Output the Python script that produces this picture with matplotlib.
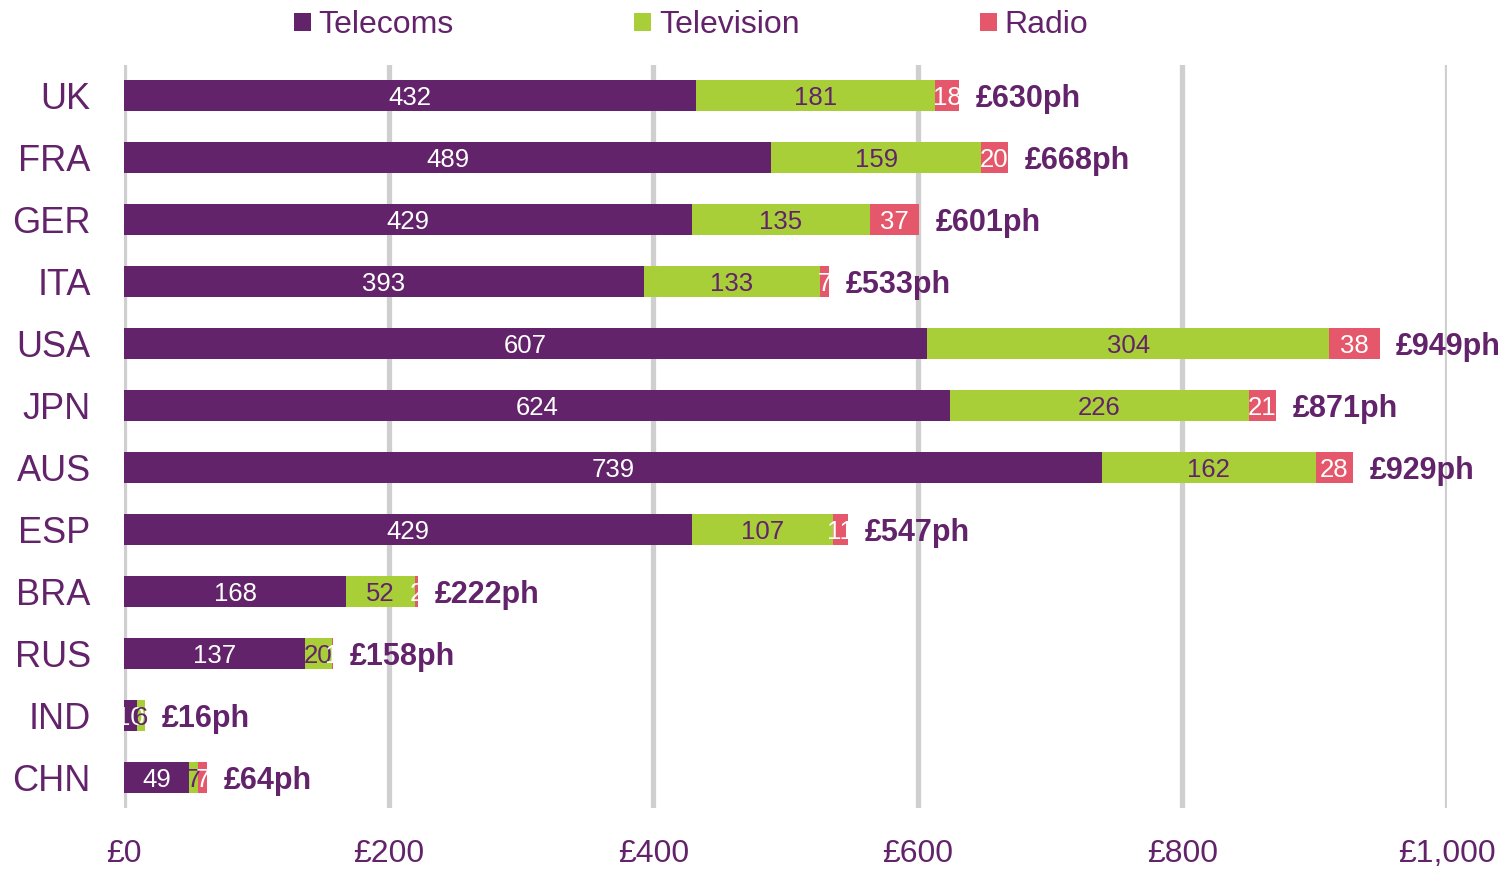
import matplotlib
matplotlib.use("Agg")
from matplotlib import pyplot
from matplotlib.ticker import FuncFormatter

# --------------------------------------------------------------------------

countries = ["UK", "FRA", "GER", "ITA", "USA", "JPN", "AUS", "ESP", "BRA", "RUS", "IND", "CHN"]
telecoms = [432, 489, 429, 393, 607, 624, 739, 429, 168, 137, 10, 49]
television = [181, 159, 135, 133, 304, 226, 162, 107, 52, 20, 6, 7]
radio = [18, 20, 37, 7, 38, 21, 28, 11, 2, 1, 0, 7]
totals = [630, 668, 601, 533, 949, 871, 929, 547, 222, 158, 16, 64]

PURPLE = "#62236a"
GREEN = "#a8cf38"
RED = "#e5576a"
GRID = "#cfcfcf"

pyplot.rcParams["font.family"] = ["Liberation Sans", "DejaVu Sans"]

fig = pyplot.figure(figsize=(15.09, 8.71), dpi=100)
W, H = 1509, 871
ax = fig.add_axes([124/W, 1 - 808/H, (1447-124)/W, (808-65)/H])

ypos = list(range(len(countries)))
left2 = [a for a in telecoms]
left3 = [a + b for a, b in zip(telecoms, television)]
ends = [a + b + c for a, b, c in zip(telecoms, television, radio)]

b1 = ax.barh(ypos, telecoms, height=0.5, color=PURPLE, label="Telecoms", zorder=3)
b2 = ax.barh(ypos, television, left=left2, height=0.5, color=GREEN, label="Television", zorder=3)
b3 = ax.barh(ypos, radio, left=left3, height=0.5, color=RED, label="Radio", zorder=3)

# segment labels, centred in each segment
for lefts, vals, col in (([0]*len(telecoms), telecoms, "white"), (left2, television, PURPLE), (left3, radio, "white")):
    for y, l, v in zip(ypos, lefts, vals):
        if v == 0: continue
        ax.text(l + v/2, y, str(v), ha="center", va="center_baseline", color=col,
                fontsize=18.5, zorder=4)

for y, e, t in zip(ypos, ends, totals):
    ax.annotate("£%dph" % t, (e, y), xytext=(12, 0), textcoords="offset points",
                va="center_baseline", ha="left", fontsize=22, fontweight="bold", color=PURPLE)

ax.set_xlim(0, 1000)
ax.set_ylim(11.5, -0.5)
ax.set_xticks([0, 200, 400, 600, 800, 1000])
ax.xaxis.set_major_formatter(FuncFormatter(lambda v, p: "£{:,.0f}".format(v)))
ax.set_yticks(ypos)
ax.set_yticklabels(countries)
ax.tick_params(axis="x", length=0, pad=22, labelsize=23, labelcolor=PURPLE)
ax.tick_params(axis="y", length=0, pad=24, labelsize=26, labelcolor=PURPLE)
ax.grid(axis="x", color=GRID, linewidth=3.8, zorder=0)
ax.set_axisbelow(True)
for s in ax.spines.values():
    s.set_visible(False)

leg = fig.legend(handles=[b1, b2, b3], loc="upper center", bbox_to_anchor=(0.458, 1.021),
                 ncol=3, frameon=False, fontsize=23, labelcolor=PURPLE,
                 handlelength=0.52, handleheight=0.52, handletextpad=0.25, columnspacing=5.65)

fig.savefig("out.png", dpi=100)
